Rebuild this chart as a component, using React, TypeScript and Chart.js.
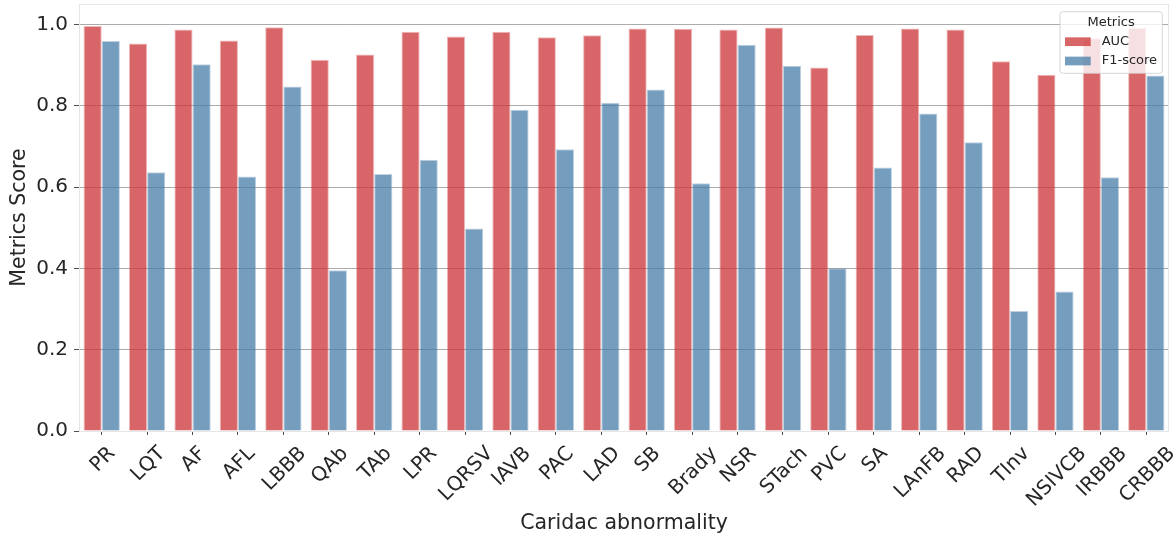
import { useEffect, useRef } from 'react';
import { Chart, registerables } from 'chart.js';

Chart.register(...registerables);

const categories = ['PR', 'LQT', 'AF', 'AFL', 'LBBB', 'QAb', 'TAb', 'LPR', 'LQRSV', 'IAVB', 'PAC', 'LAD', 'SB', 'Brady', 'NSR', 'STach', 'PVC', 'SA', 'LAnFB', 'RAD', 'TInv', 'NSIVCB', 'IRBBB', 'CRBBB'];
const aucValues = [0.996, 0.953, 0.987, 0.960, 0.993, 0.913, 0.926, 0.982, 0.970, 0.982, 0.968, 0.973, 0.990, 0.989, 0.987, 0.992, 0.894, 0.974, 0.990, 0.987, 0.909, 0.876, 0.966, 0.991];
const f1Values = [0.959, 0.636, 0.902, 0.626, 0.847, 0.395, 0.632, 0.667, 0.498, 0.790, 0.693, 0.807, 0.840, 0.609, 0.950, 0.898, 0.400, 0.648, 0.781, 0.710, 0.295, 0.343, 0.624, 0.874];
const yTickValues = [0, 0.2, 0.4, 0.6, 0.8, 1.0];
const seriesNames = ['AUC', 'F1-score'];
const legendTitle = 'Metrics';
const xTitle = 'Caridac abnormality';
const yTitle = 'Metrics Score';

const FONT = '"DejaVu Sans", sans-serif';
const TEXT = '#262626';
const RED = 'rgba(203,51,53,0.75)';
const BLUE = 'rgba(71,124,168,0.75)';
const RED_EDGE = 'rgba(203,51,53,0.35)';
const BLUE_EDGE = 'rgba(71,124,168,0.35)';
const SERIES_COLORS = [RED, BLUE];

const framePlugin = {
  id: 'frame',
  beforeDatasetsDraw(chart: any) {
    const { ctx, chartArea: ca } = chart;
    ctx.save();
    ctx.strokeStyle = '#e6e6e6';
    ctx.lineWidth = 1;
    ctx.strokeRect(Math.round(ca.left) + 0.5, Math.round(ca.top) + 0.5, Math.round(ca.right - ca.left) - 1, Math.round(ca.bottom - ca.top));
    ctx.restore();
  },
};

const xLabelPlugin = {
  id: 'xlabels',
  afterDraw(chart: any) {
    const { ctx, chartArea: ca } = chart;
    const xs = chart.scales.x;
    const S = 20;
    const H = 1.164 * S;
    ctx.save();
    ctx.font = `${S}px ${FONT}`;
    ctx.fillStyle = TEXT;
    ctx.textAlign = 'center';
    ctx.textBaseline = 'alphabetic';
    categories.forEach((lab, i) => {
      const x = xs.getPixelForValue(i);
      const w = ctx.measureText(lab).width;
      const top = ca.bottom + 10;
      const cy = top + ((w + H) * Math.SQRT1_2) / 2;
      ctx.save();
      ctx.translate(x, cy);
      ctx.rotate(-Math.PI / 4);
      ctx.fillText(lab, 0, 0.35 * S);
      ctx.restore();
    });
    ctx.restore();
  },
};

const legendPlugin = {
  id: 'boxlegend',
  afterDraw(chart: any) {
    const { ctx, chartArea: ca } = chart;
    const bw = 102.3;
    const bh = 61.6;
    const bx = ca.right - 6.7 - bw;
    const by = ca.top + 7.7;
    ctx.save();
    ctx.beginPath();
    ctx.roundRect(bx, by, bw, bh, 3);
    ctx.fillStyle = 'rgba(255,255,255,0.8)';
    ctx.fill();
    ctx.strokeStyle = 'rgba(204,204,204,0.8)';
    ctx.lineWidth = 1;
    ctx.stroke();
    ctx.font = `13px ${FONT}`;
    ctx.fillStyle = TEXT;
    ctx.textBaseline = 'middle';
    ctx.textAlign = 'center';
    ctx.fillText(legendTitle, bx + bw / 2, by + 11);
    ctx.textAlign = 'left';
    seriesNames.forEach((name, i) => {
      const cy = by + 30 + i * 19.3;
      ctx.fillStyle = SERIES_COLORS[i];
      ctx.fillRect(bx + 5, cy - 4.35, 25.7, 8.7);
      ctx.fillStyle = TEXT;
      ctx.fillText(name, bx + 41.7, cy);
    });
    ctx.restore();
  },
};

export default function App() {
  const ref = useRef<HTMLCanvasElement | null>(null);

  useEffect(() => {
    if (!ref.current) return;
    const chart = new Chart(ref.current, {
      type: 'bar',
      data: {
        labels: categories,
        datasets: [
          {
            label: seriesNames[0],
            data: aucValues,
            backgroundColor: RED,
            borderColor: RED_EDGE,
            borderWidth: 1,
            categoryPercentage: 0.8,
            barPercentage: 1.0,
          },
          {
            label: seriesNames[1],
            data: f1Values,
            backgroundColor: BLUE,
            borderColor: BLUE_EDGE,
            borderWidth: 1,
            categoryPercentage: 0.8,
            barPercentage: 1.0,
          },
        ],
      },
      options: {
        animation: false,
        responsive: false,
        devicePixelRatio: 1,
        layout: { padding: { left: 0, right: 7, top: 4, bottom: 0 } },
        plugins: {
          legend: { display: false },
          tooltip: { enabled: false },
        },
        scales: {
          x: {
            type: 'category',
            offset: true,
            grid: {
              display: true,
              drawOnChartArea: false,
              drawTicks: true,
              tickLength: 4,
              tickColor: '#4d4d4d',
              offset: false,
            },
            border: { display: false },
            ticks: { display: false },
            title: {
              display: true,
              text: xTitle,
              color: TEXT,
              font: { family: FONT, size: 20.5 },
              padding: { top: 0, bottom: 1 },
            },
            afterFit: (s: any) => {
              s.height = 106;
              s.paddingLeft = 0;
              s.paddingRight = 0;
            },
          },
          y: {
            min: 0,
            max: 1.05,
            afterBuildTicks: (s: any) => {
              s.ticks = yTickValues.map((v) => ({ value: v }));
            },
            grid: {
              color: 'rgba(0,0,0,0.33)',
              lineWidth: 1,
              drawTicks: true,
              tickLength: 5,
              tickColor: '#4d4d4d',
            },
            border: { display: false },
            ticks: {
              color: TEXT,
              font: { family: FONT, size: 20 },
              padding: 6,
              callback: (v: any) => Number(v).toFixed(1),
            },
            title: {
              display: true,
              text: yTitle,
              color: TEXT,
              font: { family: FONT, size: 20.5 },
              padding: { top: 7, bottom: 0 },
            },
            afterFit: (s: any) => {
              s.width = 79;
              s.paddingTop = 0;
              s.paddingBottom = 0;
            },
          },
        },
      } as any,
      plugins: [framePlugin, xLabelPlugin, legendPlugin],
    });
    return () => chart.destroy();
  }, []);

  return (
    <div style={{ position: 'fixed', left: 0, top: 0, width: 1176, height: 537, background: '#fff' }}>
      <canvas ref={ref} width={1176} height={537} style={{ display: 'block' }} />
    </div>
  );
}
